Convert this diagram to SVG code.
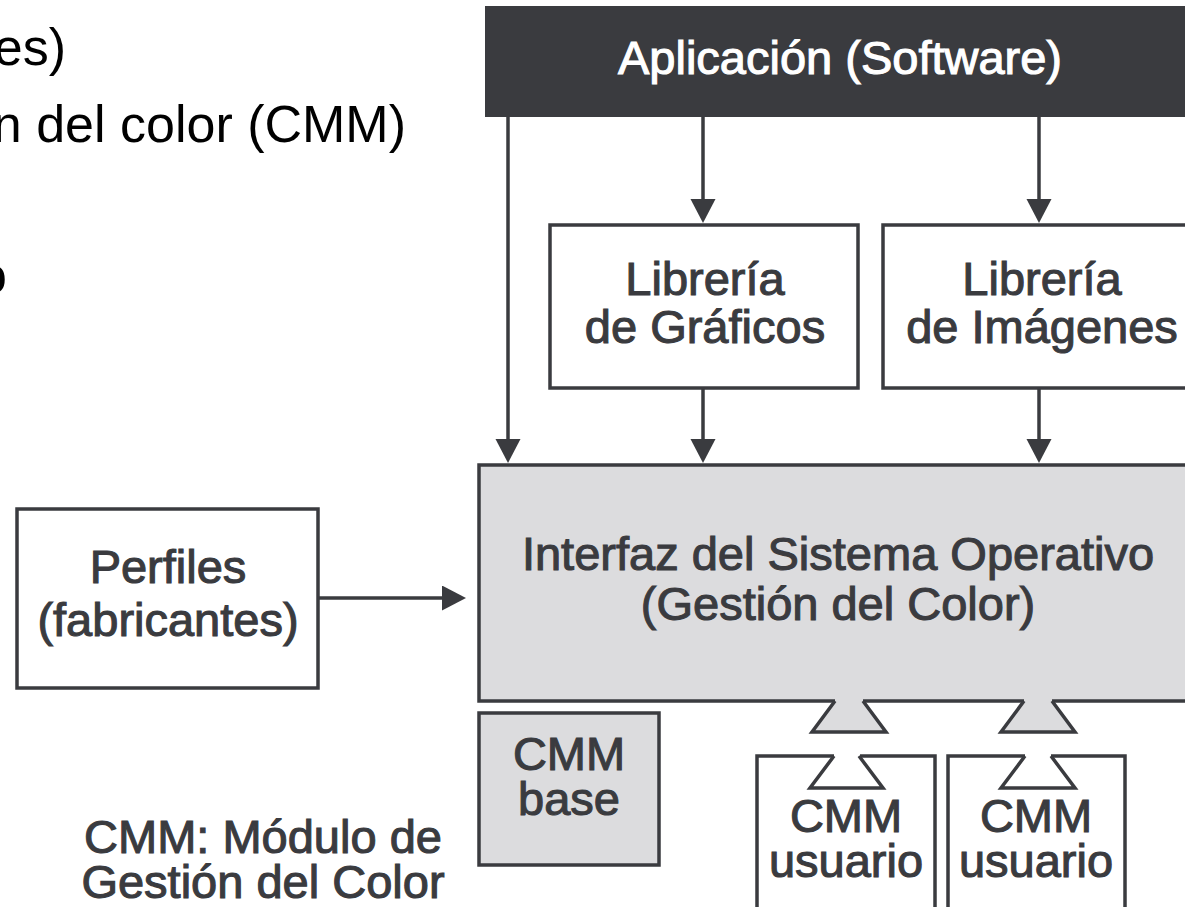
<svg xmlns="http://www.w3.org/2000/svg" width="1185" height="907" viewBox="0 0 1185 907">
  <style>
    .box { fill: #ffffff; stroke: #3a3b3f; stroke-width: 3.5; }
    .shade { fill: #dcdcde; stroke: #3a3b3f; stroke-width: 3.5; }
    .edge { fill: none; stroke: #3a3b3f; stroke-width: 3.5; stroke-linejoin: miter; }
    .lbl { font-family: "Liberation Sans", Arial, Helvetica, sans-serif; font-size: 47px; fill: #3a3b3f; stroke: #3a3b3f; stroke-width: 1.1; text-anchor: middle; }
    .lbl-w { fill: #ffffff; stroke: #ffffff; }
    .note { font-family: "Liberation Sans", Arial, Helvetica, sans-serif; font-size: 52px; fill: #000000; text-anchor: end; }
    .wire { fill: none; stroke: #3a3b3f; stroke-width: 3.5; marker-end: url(#head); }
  </style>
  <defs>
    <marker id="head" markerUnits="userSpaceOnUse" markerWidth="26" markerHeight="26" refX="14" refY="12.5" orient="auto">
      <path d="M0,0 L24,12.5 L0,25 z" fill="#3a3b3f"/>
    </marker>
  </defs>

  <rect width="1185" height="907" fill="#ffffff"/>

  <!-- running text fragments at the top left -->
  <g id="notes">
    <text class="note" x="66" y="65">es)</text>
    <text class="note" x="406" y="142">n del color (CMM)</text>
    <text class="note" x="7" y="293">o</text>
  </g>

  <!-- connectors -->
  <g id="connectors">
    <line class="wire" x1="508" y1="117" x2="508" y2="453"/>
    <line class="wire" x1="703" y1="117" x2="703" y2="213"/>
    <line class="wire" x1="1039" y1="117" x2="1039" y2="213"/>
    <line class="wire" x1="703" y1="388" x2="703" y2="453"/>
    <line class="wire" x1="1039" y1="388" x2="1039" y2="453"/>
    <line class="wire" x1="318" y1="598" x2="456" y2="598"/>
  </g>

  <g id="app">
    <rect x="485" y="6" width="760" height="111" fill="#3a3b3f"/>
    <text class="lbl lbl-w" x="840" y="74">Aplicación (Software)</text>
  </g>

  <g id="lib-graficos">
    <rect class="box" x="550" y="225" width="308" height="163"/>
    <text class="lbl" x="705" y="295">Librería</text>
    <text class="lbl" x="705" y="343">de Gráficos</text>
  </g>

  <g id="lib-imagenes">
    <rect class="box" x="883" y="225" width="350" height="163"/>
    <text class="lbl" x="1042" y="295">Librería</text>
    <text class="lbl" x="1042" y="343">de Imágenes</text>
  </g>

  <g id="os-interface">
    <rect class="shade" x="479" y="465" width="760" height="236"/>
    <!-- plug sockets on the lower edge -->
    <polygon points="835,697 835,701 812,732 886,732 863,701 863,697" fill="#dcdcde"/>
    <path class="edge" d="M835,701 L812,732 L886,732 L863,701"/>
    <polygon points="1024,697 1024,701 1001,732 1075,732 1052,701 1052,697" fill="#dcdcde"/>
    <path class="edge" d="M1024,701 L1001,732 L1075,732 L1052,701"/>
    <text class="lbl" x="838" y="570">Interfaz del Sistema Operativo</text>
    <text class="lbl" x="838" y="620">(Gestión del Color)</text>
  </g>

  <g id="perfiles">
    <rect class="box" x="17" y="509" width="301" height="179"/>
    <text class="lbl" x="168" y="583">Perfiles</text>
    <text class="lbl" x="168" y="636">(fabricantes)</text>
  </g>

  <g id="cmm-base">
    <rect class="shade" x="479" y="713" width="180" height="152"/>
    <text class="lbl" x="569" y="770">CMM</text>
    <text class="lbl" x="569" y="815">base</text>
  </g>

  <g id="cmm-usuario-1">
    <rect class="box" x="757" y="756" width="178" height="170"/>
    <rect x="834" y="752" width="26" height="8" fill="#ffffff"/>
    <path class="edge" d="M834,756 L810,788 L883,788 L859,756"/>
    <text class="lbl" x="846" y="832">CMM</text>
    <text class="lbl" x="846" y="877">usuario</text>
  </g>

  <g id="cmm-usuario-2">
    <rect class="box" x="948" y="756" width="177" height="170"/>
    <rect x="1025" y="752" width="26" height="8" fill="#ffffff"/>
    <path class="edge" d="M1025,756 L1001,788 L1075,788 L1051,756"/>
    <text class="lbl" x="1036" y="832">CMM</text>
    <text class="lbl" x="1036" y="877">usuario</text>
  </g>

  <g id="legend">
    <text class="lbl" x="263" y="853">CMM: Módulo de</text>
    <text class="lbl" x="263" y="898">Gestión del Color</text>
  </g>
</svg>
